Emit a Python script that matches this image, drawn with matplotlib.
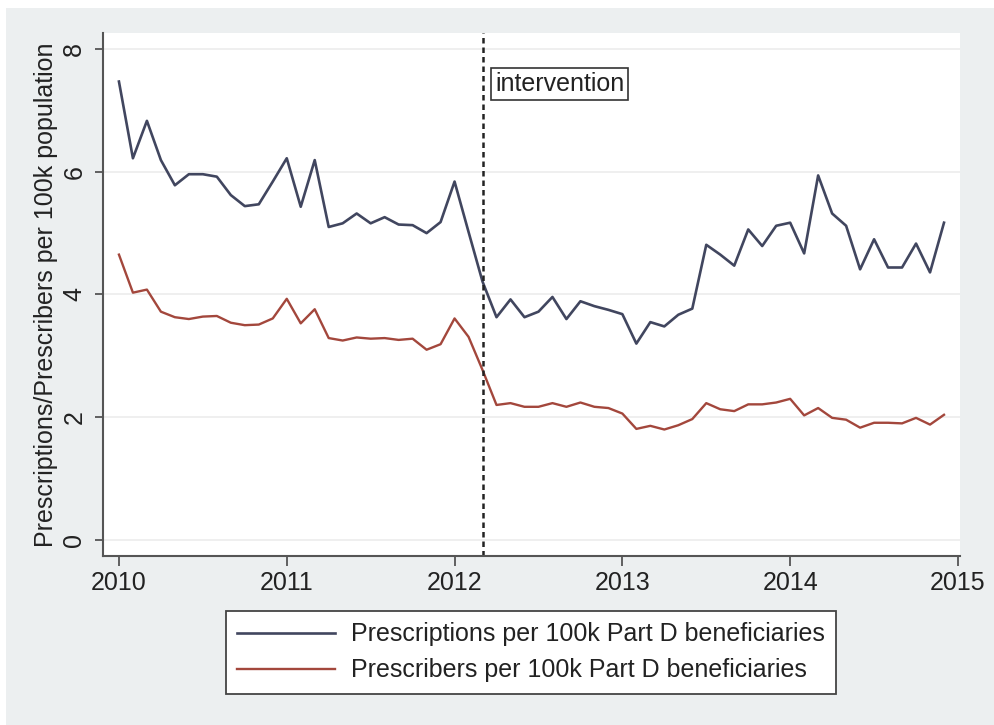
import matplotlib
matplotlib.use('Agg')
import matplotlib.pyplot as plt
import matplotlib.patches as patches
import numpy as np

# monthly series, Jan 2010 .. Dec 2014
prescriptions = [7.47, 6.22, 6.83, 6.19, 5.78, 5.96, 5.96, 5.92, 5.62, 5.44,
                 5.47, 5.84, 6.22, 5.43, 6.19, 5.10, 5.16, 5.32, 5.16, 5.26,
                 5.14, 5.13, 5.00, 5.18, 5.84, 5.02, 4.21, 3.63, 3.92, 3.63,
                 3.72, 3.96, 3.60, 3.89, 3.81, 3.75, 3.68, 3.20, 3.55, 3.48,
                 3.67, 3.77, 4.81, 4.65, 4.47, 5.06, 4.79, 5.12, 5.17, 4.67,
                 5.94, 5.32, 5.12, 4.41, 4.90, 4.44, 4.44, 4.83, 4.36, 5.17]
prescribers = [4.65, 4.03, 4.08, 3.72, 3.63, 3.60, 3.64, 3.65, 3.54, 3.50,
               3.51, 3.61, 3.93, 3.53, 3.76, 3.29, 3.25, 3.30, 3.28, 3.29,
               3.26, 3.28, 3.10, 3.19, 3.61, 3.31, 2.77, 2.20, 2.23, 2.17,
               2.17, 2.23, 2.17, 2.24, 2.17, 2.15, 2.06, 1.81, 1.86, 1.80,
               1.87, 1.97, 2.23, 2.13, 2.10, 2.21, 2.21, 2.24, 2.30, 2.03,
               2.15, 1.99, 1.96, 1.83, 1.91, 1.91, 1.90, 1.99, 1.88, 2.04]
start_year = 2010
intervention_year = 2012
intervention_month = 3
year_ticks = [2010, 2011, 2012, 2013, 2014, 2015]
y_ticks = [0, 2, 4, 6, 8]

months = np.arange(len(prescriptions))
t = start_year + months / 12.0
t_int = intervention_year + (intervention_month - 1) / 12.0

plt.rcParams['font.family'] = ['Liberation Sans', 'DejaVu Sans']

W, H = 995, 725
fig = plt.figure(figsize=(W / 100, H / 100), dpi=100, facecolor='white')
bg = '#eceff0'
fig.patches.append(patches.Rectangle((6 / W, 0), 1, 1 - 8 / H, transform=fig.transFigure,
                                     facecolor=bg, edgecolor='none', zorder=-10))

ax = fig.add_axes([103 / W, (H - 556) / H, (960 - 103) / W, (556 - 33) / H])
ax.set_facecolor('white')

blue = '#41465f'
red = '#a3473c'
ax.plot(t, prescriptions, color=blue, lw=1.9, label='Prescriptions per 100k Part D beneficiaries')
ax.plot(t, prescribers, color=red, lw=1.7, label='Prescribers per 100k Part D beneficiaries')

ax.axvline(t_int, color='#222222', lw=1.8, ls=(0, (2.2, 1.6)))
ax.text(t_int + 0.075, 7.43, 'intervention', fontsize=18, color='#222222', va='center', ha='left',
        bbox=dict(boxstyle='square,pad=0.16', facecolor='white', edgecolor='#333333', lw=1.2))

ax.set_xlim(2009.905, 2015.012)
ax.set_ylim(-0.261, 8.261)
ax.set_xticks(year_ticks)
ax.set_yticks(y_ticks)
ax.grid(axis='y', color='#ececec', lw=1.2)
ax.set_axisbelow(True)

for s in ['top', 'right']:
    ax.spines[s].set_visible(False)
for s in ['left', 'bottom']:
    ax.spines[s].set_color('#555555')
    ax.spines[s].set_linewidth(1.5)

ax.tick_params(axis='x', length=7, width=1.3, color='#555555', labelsize=18, pad=4, labelcolor='#222222')
ax.tick_params(axis='y', length=6, width=1.3, color='#555555', labelsize=18, pad=6, labelcolor='#222222')
for lab in ax.get_yticklabels():
    lab.set_rotation(90)
    lab.set_va('center')

ax.set_ylabel('Prescriptions/Prescribers per 100k population', fontsize=18, color='#222222', labelpad=3)

leg = fig.legend(loc='center', bbox_to_anchor=((219 + 843) / 2 / W, 1 - (612 + 693) / 2 / H),
                 fontsize=18, frameon=True, fancybox=False, framealpha=1, handlelength=3.9,
                 handletextpad=0.64, labelspacing=0.48, borderpad=0.45)
leg.get_frame().set_edgecolor('#444444')
leg.get_frame().set_linewidth(1.3)
for txt in leg.get_texts():
    txt.set_color('#222222')

fig.savefig('out.png', dpi=100, facecolor=fig.get_facecolor())
